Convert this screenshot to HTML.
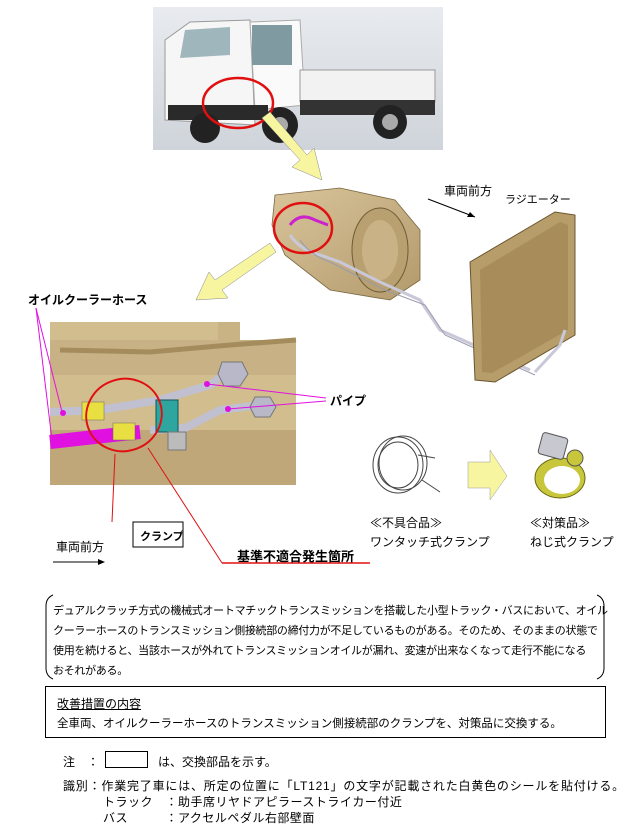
<!DOCTYPE html>
<html><head><meta charset="utf-8"><style>
body{margin:0;background:#fff;width:633px;height:836px;overflow:hidden;position:relative;font-family:"Liberation Sans","Noto Sans CJK JP",sans-serif;}
.t{position:absolute;font-size:12px;color:#000;white-space:nowrap;}
.b{font-weight:bold;}
</style></head><body>
<svg width="633" height="836" style="position:absolute;left:0;top:0">
<defs>
<linearGradient id="bg" x1="0" y1="0" x2="0" y2="1"><stop offset="0" stop-color="#e8ebef"/><stop offset="1" stop-color="#cfd4da"/></linearGradient>
<linearGradient id="tan" x1="0" y1="0" x2="1" y2="1"><stop offset="0" stop-color="#d9c49a"/><stop offset="1" stop-color="#b29a6c"/></linearGradient>
</defs>
<rect x="153" y="7" width="290" height="143" fill="url(#bg)"/>
<path d="M165 40 L190 22 L250 20 L255 125 L165 120 Z" fill="#f6f6f6" stroke="#999"/>
<path d="M185 30 L230 27 L230 55 L180 58 Z" fill="#9fb7bc"/>
<path d="M250 22 L300 20 L305 105 L255 110 Z" fill="#fafafa" stroke="#aaa"/>
<rect x="252" y="25" width="40" height="40" fill="#7f9aa0"/>
<rect x="300" y="70" width="135" height="32" fill="#f2f2f2" stroke="#999"/>
<rect x="300" y="100" width="135" height="15" fill="#333"/>
<rect x="168" y="105" width="100" height="15" fill="#2a2a2a"/>
<circle cx="280" cy="125" r="18" fill="#222"/><circle cx="280" cy="125" r="8" fill="#aaa"/>
<circle cx="390" cy="122" r="17" fill="#222"/><circle cx="390" cy="122" r="8" fill="#aaa"/>
<circle cx="205" cy="128" r="15" fill="#222"/>
<ellipse cx="238" cy="103" rx="35" ry="25" fill="none" stroke="#e01010" stroke-width="2.5"/>
<path d="M262 118 L300 160 L292 167 L322 180 L314 148 L307 155 L270 112 Z" fill="#f7f5a0" stroke="#888" stroke-width="0.5"/>
<path d="M275 195 L340 188 L395 200 L420 230 L420 280 L390 300 L330 290 L285 255 L272 225 Z" fill="url(#tan)" stroke="#7a6540" stroke-width="0.8"/>
<ellipse cx="380" cy="250" rx="28" ry="42" fill="#b9a070" stroke="#6f5a35"/>
<ellipse cx="380" cy="250" rx="18" ry="30" fill="#c9b286"/>
<path d="M290 225 Q300 212 315 220 L328 225" stroke="#cc22cc" stroke-width="3" fill="none"/>
<path d="M290 235 Q300 250 320 255 L340 262 L380 282 L420 300 L440 330 L530 370" stroke="#c8c8d8" stroke-width="3" fill="none"/>
<path d="M300 240 Q310 255 330 262 L385 290 L425 305 L445 335 L535 375" stroke="#9a9aae" stroke-width="1" fill="none"/>
<ellipse cx="303" cy="228" rx="29" ry="25" fill="none" stroke="#e01010" stroke-width="2.5"/>
<path d="M470 262 L555 212 L575 215 L575 335 L495 382 L475 380 Z" fill="#b79d6a" stroke="#6a5530"/>
<path d="M480 270 L560 222 L568 225 L568 330 L492 373 L482 372 Z" fill="#a88d5b"/>
<path d="M535 372 L560 345 L565 330" stroke="#c8c8d8" stroke-width="3" fill="none"/>
<line x1="428" y1="199" x2="475" y2="217" stroke="#000" stroke-width="1"/>
<path d="M475 217 L467 217 L470 212 Z" fill="#000"/>
<path d="M270 243 L215 280 L209 272 L196 300 L228 298 L222 290 L276 252 Z" fill="#f7f5a0" stroke="#888" stroke-width="0.5"/>
<rect x="50" y="322" width="246" height="163" fill="#d2bd8f"/>
<path d="M50 322 L296 322 L296 340 L230 340 L230 322" fill="#fff"/>
<rect x="218" y="322" width="22" height="18" fill="#c9b283"/>
<rect x="50" y="340" width="246" height="35" fill="#c8b285"/>
<path d="M60 350 L150 352 L230 345 L296 340" stroke="#a48c5d" stroke-width="5" fill="none"/>
<rect x="50" y="430" width="246" height="55" fill="#bfa77a"/>
<path d="M50 412 L100 410 L160 400 L210 385 L230 370" stroke="#c0c0d0" stroke-width="8" fill="none"/>
<path d="M150 430 L185 428 L220 410 L260 405" stroke="#c0c0d0" stroke-width="8" fill="none"/>
<polygon points="222,362 242,362 248,374 240,386 224,386 218,374" fill="#b8b8c8" stroke="#777"/>
<polygon points="255,397 270,397 276,407 270,417 255,417 250,407" fill="#b8b8c8" stroke="#777"/>
<path d="M50 442 L140 432" stroke="#e010e0" stroke-width="14"/>
<rect x="82" y="402" width="22" height="18" fill="#e8e040" stroke="#666" stroke-width="0.5"/>
<rect x="113" y="423" width="22" height="17" fill="#e8e040" stroke="#666" stroke-width="0.5"/>
<rect x="156" y="400" width="22" height="32" fill="#2fa5a0" stroke="#155"/>
<rect x="168" y="432" width="18" height="18" fill="#bbb" stroke="#777"/>
<circle cx="63" cy="413" r="3" fill="#e010e0"/>
<circle cx="207" cy="384" r="3" fill="#e010e0"/>
<circle cx="228" cy="409" r="3" fill="#e010e0"/>
<ellipse cx="124" cy="415" rx="38" ry="36" transform="rotate(-20 124 415)" fill="none" stroke="#e01010" stroke-width="2"/>
<line x1="36" y1="308" x2="62" y2="412" stroke="#e010e0" stroke-width="1"/>
<line x1="36" y1="308" x2="52" y2="440" stroke="#e010e0" stroke-width="1"/>
<line x1="207" y1="384" x2="326" y2="398" stroke="#e010e0" stroke-width="1"/>
<line x1="228" y1="409" x2="326" y2="401" stroke="#e010e0" stroke-width="1"/>
<line x1="115" y1="454" x2="112" y2="522" stroke="#e01010" stroke-width="1"/>
<line x1="148" y1="448" x2="222" y2="563" stroke="#e01010" stroke-width="1"/>
<line x1="222" y1="563" x2="370" y2="563" stroke="#e01010" stroke-width="1.5"/>
<rect x="133" y="522" width="50" height="25" fill="#fff" stroke="#000"/>
<line x1="53" y1="562" x2="102" y2="562" stroke="#000"/>
<path d="M105 562 L98 559 L98 565 Z" fill="#000"/>
<g fill="none" stroke="#444" stroke-width="1">
<ellipse cx="398" cy="465" rx="25" ry="28"/><ellipse cx="403" cy="463" rx="24" ry="27"/>
<ellipse cx="398" cy="465" rx="20" ry="23"/>
<path d="M418 455 L435 458 M422 480 L440 492"/>
</g>
<path d="M468 462 L490 462 L490 450 L507 476 L490 500 L490 488 L468 488 Z" fill="#f7f5a0" stroke="#999" stroke-width="0.5"/>
<ellipse cx="560" cy="478" rx="25" ry="20" fill="#c8c63a" stroke="#6a6a10"/>
<ellipse cx="562" cy="480" rx="18" ry="14" fill="#fff"/>
<rect x="540" y="435" width="26" height="22" rx="3" transform="rotate(15 553 446)" fill="#c8c8d0" stroke="#555"/>
<circle cx="575" cy="458" r="8" fill="#c8c63a" stroke="#555"/>
<path d="M53 595 Q46 598 46 606 L46 668 Q46 676 53 679" fill="none" stroke="#000"/>
<path d="M597 595 Q604 598 604 606 L604 668 Q604 676 597 679" fill="none" stroke="#000"/>
<rect x="45.5" y="686.5" width="560" height="51" fill="none" stroke="#000"/>
<rect x="105.5" y="751.5" width="42" height="16" fill="none" stroke="#000"/>
</svg>
<div class="t" style="left:444px;top:182px;font-size:12px">車両前方</div>
<div class="t" style="left:505px;top:191px;font-size:11px">ラジエーター</div>
<div class="t b" style="left:28px;top:291px;font-size:12px">オイルクーラーホース</div>
<div class="t b" style="left:330px;top:392px;font-size:12px">パイプ</div>
<div class="t b" style="left:140px;top:528px;font-size:11px">クランプ</div>
<div class="t b" style="left:237px;top:546px;font-size:13px">基準不適合発生箇所</div>
<div class="t" style="left:56px;top:538px;font-size:12px">車両前方</div>
<div class="t" style="left:370px;top:514px;font-size:12px">≪不具合品≫</div>
<div class="t" style="left:370px;top:533px;font-size:12px">ワンタッチ式クランプ</div>
<div class="t" style="left:530px;top:514px;font-size:12px">≪対策品≫</div>
<div class="t" style="left:530px;top:533px;font-size:12px">ねじ式クランプ</div>
<div class="t" style="left:53px;top:601px;font-size:11px;line-height:20px;letter-spacing:-0.3px">デュアルクラッチ方式の機械式オートマチックトランスミッションを搭載した小型トラック・バスにおいて、オイル<br>クーラーホースのトランスミッション側接続部の締付力が不足しているものがある。そのため、そのままの状態で<br>使用を続けると、当該ホースが外れてトランスミッションオイルが漏れ、変速が出来なくなって走行不能になる<br>おそれがある。</div>
<div class="t" style="left:57px;top:695px;font-size:12px;text-decoration:underline">改善措置の内容</div>
<div class="t" style="left:57px;top:715px;font-size:11.5px">全車両、オイルクーラーホースのトランスミッション側接続部のクランプを、対策品に交換する。</div>
<div class="t" style="left:63px;top:753px;font-size:12px">注　：</div>
<div class="t" style="left:158px;top:753px;font-size:12px">は、交換部品を示す。</div>
<div class="t" style="left:63px;top:777px;font-size:12px;letter-spacing:0.8px">識別：作業完了車には、所定の位置に「LT121」の文字が記載された白黄色のシールを貼付ける。</div>
<div class="t" style="left:103px;top:793px;font-size:12px;letter-spacing:0.5px">トラック　：助手席リヤドアピラーストライカー付近</div>
<div class="t" style="left:103px;top:809px;font-size:12px;letter-spacing:0.5px">バス　　　：アクセルペダル右部壁面</div>
</body></html>
